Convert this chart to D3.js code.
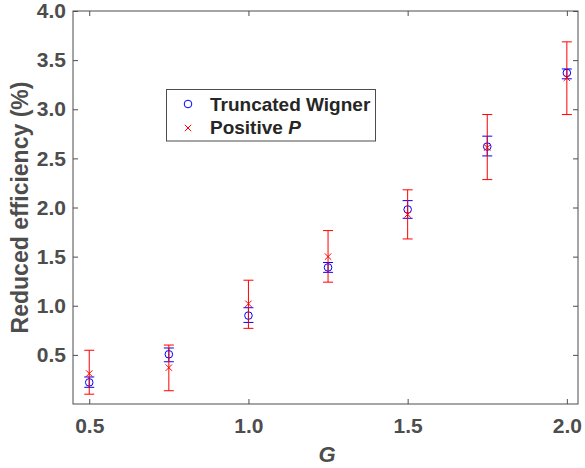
<!DOCTYPE html>
<html>
<head>
<meta charset="utf-8">
<script src="https://cdn.jsdelivr.net/npm/d3@7"></script>
<style>
  body { margin: 0; background: #fff; }
  text { font-family: "Liberation Sans", Arial, sans-serif; }
</style>
</head>
<body>
<div id="chart"></div>
<script>
// values
const gValues = [0.5, 0.75, 1.0, 1.25, 1.5, 1.75, 2.0];
const wignerMean = [0.22, 0.506, 0.90, 1.39, 1.98, 2.62, 3.37];
const wignerLow = [0.17, 0.43, 0.83, 1.34, 1.89, 2.525, 3.31];
const wignerHigh = [0.275, 0.57, 0.98, 1.44, 2.07, 2.726, 3.41];
const posPMean = [0.31, 0.37, 1.02, 1.50, 1.93, 2.61, 3.32];
const posPLow = [0.10, 0.135, 0.77, 1.24, 1.68, 2.284, 2.946];
const posPHigh = [0.547, 0.60, 1.26, 1.765, 2.18, 2.946, 3.686];
const xTicks = [0.5, 1.0, 1.5, 2.0];
const yTicks = [0.5, 1.0, 1.5, 2.0, 2.5, 3.0, 3.5, 4.0];

const width = 585, height = 468;
const plotLeft = 73, plotRight = 578, plotTop = 11, plotBottom = 404;
const axisColor = "#4d4d4d";

let svg = d3.select("#chart").append("svg")
    .attr("width", width).attr("height", height);

let x = d3.scaleLinear().domain([0.449, 2.035]).range([plotLeft, plotRight]);
let y = d3.scaleLinear().domain([0, 4]).range([plotBottom, plotTop]);

// frame
svg.append("rect")
    .attr("x", plotLeft).attr("y", plotTop)
    .attr("width", plotRight - plotLeft).attr("height", plotBottom - plotTop)
    .attr("fill", "none").attr("stroke", axisColor).attr("stroke-width", 1);

function styleAxis(g) {
    g.select(".domain").remove();
    g.selectAll(".tick line").attr("stroke", axisColor);
    g.selectAll(".tick text")
        .attr("fill", axisColor)
        .style("font-size", "21px")
        .style("font-weight", "bold");
}

svg.append("g").attr("transform", `translate(0,${plotBottom})`)
    .call(d3.axisBottom(x).tickValues(xTicks).tickFormat(d3.format(".1f"))
        .tickSizeInner(-5).tickPadding(14))
    .call(styleAxis);
svg.append("g").attr("transform", `translate(0,${plotTop})`)
    .call(d3.axisTop(x).tickValues(xTicks).tickFormat("").tickSizeInner(-5))
    .call(styleAxis);
svg.append("g").attr("transform", `translate(${plotLeft},0)`)
    .call(d3.axisLeft(y).tickValues(yTicks).tickFormat(d3.format(".1f"))
        .tickSizeInner(-5).tickPadding(7))
    .call(styleAxis);
svg.append("g").attr("transform", `translate(${plotRight},0)`)
    .call(d3.axisRight(y).tickValues(yTicks).tickFormat("").tickSizeInner(-5))
    .call(styleAxis);

// axis titles
svg.append("text")
    .attr("x", 327).attr("y", 462)
    .attr("text-anchor", "middle")
    .attr("fill", axisColor)
    .style("font-size", "22px").style("font-weight", "bold").style("font-style", "italic")
    .text("G");
svg.append("text")
    .attr("transform", `translate(28,${(plotTop + plotBottom) / 2}) rotate(-90)`)
    .attr("text-anchor", "middle")
    .attr("fill", axisColor)
    .style("font-size", "23px").style("font-weight", "bold")
    .text("Reduced efficiency (%)");

const cap = 5;
function errorBars(mean, low, high, color) {
    let g = svg.append("g").attr("stroke", color).attr("stroke-width", 1).attr("fill", "none");
    gValues.forEach(function (gv, i) {
        let cx = x(gv);
        g.append("line").attr("x1", cx).attr("x2", cx).attr("y1", y(low[i])).attr("y2", y(high[i]));
        g.append("line").attr("x1", cx - cap).attr("x2", cx + cap).attr("y1", y(low[i])).attr("y2", y(low[i]));
        g.append("line").attr("x1", cx - cap).attr("x2", cx + cap).attr("y1", y(high[i])).attr("y2", y(high[i]));
    });
    return g;
}

function crossPath(cx, cy, s) {
    return `M${cx - s},${cy - s}L${cx + s},${cy + s}M${cx - s},${cy + s}L${cx + s},${cy - s}`;
}

// truncated Wigner
let wg = errorBars(wignerMean, wignerLow, wignerHigh, "#0000ff");
wg.selectAll("circle").data(wignerMean).enter().append("circle")
    .attr("cx", (d, i) => x(gValues[i]))
    .attr("cy", d => y(d))
    .attr("r", 3.8);

// positive P
let pg = errorBars(posPMean, posPLow, posPHigh, "#ff0000");
pg.selectAll("path.mark").data(posPMean).enter().append("path")
    .attr("class", "mark")
    .attr("d", (d, i) => crossPath(x(gValues[i]), y(d), 3.2));

// legend
let legend = svg.append("g");
legend.append("rect")
    .attr("x", 166.5).attr("y", 89.5).attr("width", 209).attr("height", 51.5)
    .attr("fill", "#fff").attr("stroke", axisColor).attr("stroke-width", 1);
legend.append("circle")
    .attr("cx", 188).attr("cy", 104).attr("r", 3.8)
    .attr("fill", "none").attr("stroke", "#0000ff");
legend.append("path")
    .attr("d", crossPath(188, 128, 3.2))
    .attr("fill", "none").attr("stroke", "#ff0000");
legend.append("text")
    .attr("x", 210).attr("y", 111)
    .attr("fill", "#262626")
    .style("font-size", "19px").style("font-weight", "bold")
    .text("Truncated Wigner");
let t2 = legend.append("text")
    .attr("x", 210).attr("y", 134)
    .attr("fill", "#262626")
    .style("font-size", "19px").style("font-weight", "bold");
t2.append("tspan").text("Positive ");
t2.append("tspan").style("font-style", "italic").text("P");
</script>
</body>
</html>
